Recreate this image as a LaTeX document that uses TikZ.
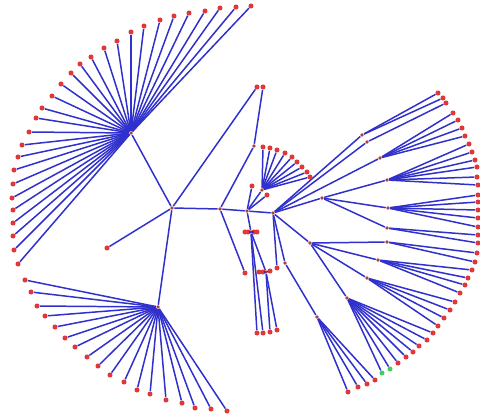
\documentclass[tikz,border=0pt]{standalone}
\usepackage{xcolor}
\usepackage{tikz}
\usetikzlibrary{positioning}
\definecolor{treeEdge}{HTML}{3030CC}
\definecolor{treeLeaf}{HTML}{E03838}
\definecolor{treeHub}{HTML}{B04040}
\definecolor{treeMark}{HTML}{3FCF5F}
\tikzset{
  treeleaf/.style={circle,fill=treeLeaf,inner sep=0pt,minimum size=2.9pt},
  treehub/.style={treeleaf,fill=treeHub,minimum size=2.2pt},
  treemark/.style={treeleaf,fill=treeMark},
  treeedge/.style={draw=treeEdge,line width=0.85pt},
}

\begin{document}
\begin{tikzpicture}[x=0.02cm,y=-0.02cm]
  \useasboundingbox (0,0) rectangle (480,416);

  % inner nodes
  \foreach \n/\x/\y in {c1/172/208,c2/220/209,c3/247/211,rt/273/213,ul/131/133,ll/158/307,
      t1/254/146,sf/262/190,b1/251/232,b2/266/272,a1/362/135,a2/367/142,a3/380/158,
      m1/322/198,m2/387/180,m3/388/208,m4/387/228,q1/310/243,q2/387/242,q3/378/260,
      q4/367/278,q5/347/298,p1/285/263,p2/317/317}
    {\node[treehub] (\n) at (\x,\y) {};}
  \foreach \a/\b in {c1/ul,c1/ll,c1/c2,c2/c3,c3/rt,c2/t1,c3/sf,c3/b1,b1/b2,rt/a1,rt/a2,rt/a3,
      rt/m1,m1/m2,m1/m3,m1/m4,rt/q1,q1/q2,q1/q3,q1/q4,q1/q5,rt/p1,p1/p2}
    {\draw[treeedge] (\a)--(\b);}

  % upper left fan
  \foreach \x/\y [count=\i] in {251/6,236/7,220/8,205/11,189/13,174/16,160/20,144/26,131/32,
      117/41,104/48,91/57,80/64,71/73,61/84,52/96,42/108,36/118,29/132,22/145,18/157,14/170,
      13/184,12/198,13/210,13/223,13/236,14/250,18/264}
    {\node[treeleaf] (u\i) at (\x,\y) {}; \draw[treeedge] (ul)--(u\i);}

  % lower left fan
  \foreach \x/\y [count=\i] in {25/280,31/292,37/306,45/316,55/327,65/338,75/347,87/357,98/366,
      110/375,124/382,137/390,150/394,166/400,182/403,195/408,211/409,227/411}
    {\node[treeleaf] (l\i) at (\x,\y) {}; \draw[treeedge] (ll)--(l\i);}

  % middle and right leaves
  \foreach \p/\x/\y [count=\i] in {c1/107/248,c1/257/87,c2/245/273,t1/263/87,c3/252/186,c3/267/195,
      sf/263/147,sf/270/148,sf/277/150,sf/285/153,sf/292/157,sf/297/162,sf/302/167,sf/307/172,sf/310/177,
      b1/245/232,b1/248/232,b1/254/232,b1/257/232,b1/257/333,b1/263/333,
      b2/259/272,b2/263/272,b2/270/271,b2/270/332,b2/277/330,rt/277/268,
      a1/438/93,a1/443/98,a2/446/103,a3/453/113,a3/458/120,a3/462/128,a3/465/136,
      m2/469/144,m2/472/152,m2/475/160,m2/477/167,m2/477/177,m2/478/185,
      m3/478/195,m3/478/202,m3/478/210,m3/478/218,m3/478/227,m4/478/235,m4/478/243,
      q2/477/253,q2/475/262,q3/472/270,q3/468/278,q3/465/285,q3/460/293,
      q4/455/302,q4/450/310,q4/444/318,q4/438/326,
      q5/433/333,q5/427/340,q5/419/346,q5/413/352,q5/406/357,q5/398/363,
      p2/375/380,p2/367/384,p2/358/387,p2/348/392}
    {\node[treeleaf] (r\i) at (\x,\y) {}; \draw[treeedge] (\p)--(r\i);}
  \node[treemark] (g1) at (390,369) {};
  \node[treemark] (g2) at (382,373) {};
  \draw[treeedge] (q5)--(g1);
  \draw[treeedge] (q5)--(g2);
\end{tikzpicture}
\end{document}
